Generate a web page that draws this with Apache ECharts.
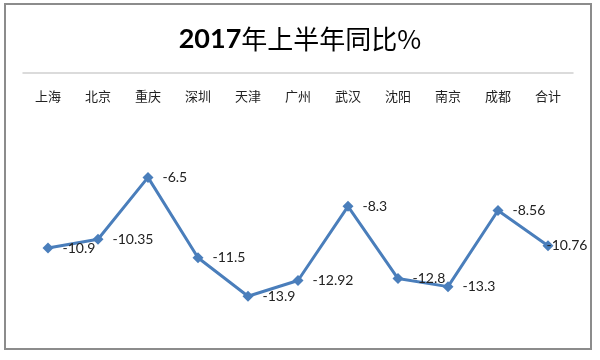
<!DOCTYPE html>
<html>
<head>
<meta charset="utf-8">
<script src="https://cdn.jsdelivr.net/npm/echarts@6/dist/echarts.min.js"></script>
<style>html,body{margin:0;padding:0;background:#fff;}#c{width:600px;height:360px;}</style>
</head>
<body>
<div id="c"></div>
<script>
const categories = ['上海','北京','重庆','深圳','天津','广州','武汉','沈阳','南京','成都','合计'];
const values = [-10.9, -10.35, -6.5, -11.5, -13.9, -12.92, -8.3, -12.8, -13.3, -8.56, -10.76];
const titleYear = '2017';
const titleRest = '年上半年同比%';

const chart = echarts.init(document.getElementById('c'), null, {renderer: 'canvas'});
const FONT = "Lato, 'Noto Sans CJK SC', sans-serif";
const seriesData = values.map((v, i) => i === values.length - 1
  ? {value: v, label: {distance: -7}}
  : v);
chart.setOption({
  backgroundColor: '#fff',
  animation: false,
  title: {
    text: '{a|' + titleYear + '}{b|' + titleRest + '}',
    left: 'center',
    top: 21,
    textStyle: {
      rich: {
        a: {fontSize: 27, fontWeight: 'bold', color: '#000', fontFamily: FONT},
        b: {fontSize: 26, fontWeight: 'normal', color: '#000', fontFamily: "'Noto Sans CJK SC', sans-serif"}
      }
    }
  },
  graphic: [{
    type: 'rect',
    shape: {x: 5, y: 4, width: 586, height: 345},
    style: {fill: 'none', stroke: '#8c8c8c', lineWidth: 2},
    silent: true
  }],
  grid: {left: 23, right: 27, top: 73, bottom: 30},
  xAxis: {
    type: 'category',
    data: categories,
    boundaryGap: true,
    position: 'top',
    axisLine: {lineStyle: {color: '#d0d0d0', width: 1.5}},
    axisTick: {show: false},
    axisLabel: {inside: true, margin: 17, fontSize: 13, color: '#222', fontFamily: "'Noto Sans CJK SC', sans-serif"},
    splitLine: {show: false}
  },
  yAxis: {
    type: 'value',
    min: -16,
    max: 0,
    show: false,
    splitLine: {show: false}
  },
  series: [{
    type: 'line',
    data: seriesData,
    symbol: 'diamond',
    symbolSize: 11,
    lineStyle: {color: '#4a7ebb', width: 3},
    itemStyle: {color: '#4a7ebb'},
    label: {
      show: true,
      position: 'right',
      distance: 9,
      fontSize: 14,
      color: '#222',
      fontFamily: FONT
    }
  }]
});
</script>
</body>
</html>
